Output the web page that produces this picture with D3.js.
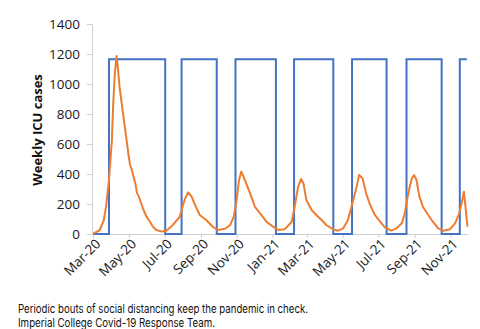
<!DOCTYPE html>
<meta charset="utf-8">
<style>
  body { margin: 0; background: #fff; }
  text { font-family: "Open Sans", sans-serif; }
</style>
<script src="https://d3js.org/d3.v7.min.js"></script>
<div id="chart"></div>
<script>
  // orange: weekly ICU cases
  var caseDates = ["2020-03-01","2020-03-12","2020-03-19","2020-03-23","2020-03-28","2020-04-02","2020-04-04","2020-04-07","2020-04-10",
    "2020-04-12","2020-04-15","2020-04-18","2020-04-21","2020-04-24","2020-04-27","2020-04-30","2020-05-03","2020-05-06","2020-05-09",
    "2020-05-12","2020-05-15","2020-05-18","2020-05-21","2020-05-26","2020-05-31","2020-06-06","2020-06-11","2020-06-17","2020-06-26",
    "2020-07-04","2020-07-15","2020-07-27","2020-07-30","2020-08-04","2020-08-10","2020-08-16","2020-08-22","2020-08-30","2020-09-10",
    "2020-09-22","2020-09-30","2020-10-12","2020-10-21","2020-10-27","2020-11-01","2020-11-05","2020-11-09","2020-11-15","2020-11-24",
    "2020-12-02","2020-12-11","2020-12-22","2021-01-02","2021-01-11","2021-01-22","2021-02-03","2021-02-08","2021-02-14","2021-02-19",
    "2021-02-23","2021-02-28","2021-03-09","2021-03-17","2021-03-26","2021-04-03","2021-04-15","2021-04-23","2021-05-02","2021-05-10",
    "2021-05-16","2021-05-25","2021-05-29","2021-06-04","2021-06-10","2021-06-17","2021-06-25","2021-07-04","2021-07-12","2021-07-23",
    "2021-08-01","2021-08-10","2021-08-15","2021-08-21","2021-08-27","2021-08-31","2021-09-04","2021-09-09","2021-09-15","2021-09-24",
    "2021-10-02","2021-10-11","2021-10-20","2021-10-31","2021-11-09","2021-11-16","2021-11-20","2021-11-24","2021-11-27","2021-11-30"];
  var caseValues = [3,25,90,182,360,627,849,1073,1187,
    1116,982,893,804,715,627,538,460,427,382,
    338,271,249,215,160,116,82,49,27,16,
    22,60,116,160,227,278,250,193,127,93,
    45,27,35,60,116,227,360,416,360,271,
    182,138,82,49,27,31,82,182,316,367,
    338,227,160,127,93,60,31,22,38,93,
    182,316,393,371,271,193,127,82,44,22,
    38,71,138,271,371,393,360,249,182,127,
    82,38,22,31,71,138,204,282,171,49];

  // blue: social distancing on/off switches
  var switchDates = ["2020-03-01","2020-03-28","2020-07-02","2020-07-30","2020-09-28","2020-10-30","2021-01-07","2021-02-07",
    "2021-04-15","2021-05-17","2021-07-15","2021-08-18","2021-10-17","2021-11-17","2021-11-29"];
  var switchValues = [0,1165,0,1165,0,1165,0,1165,0,1165,0,1165,0,1165,1165];

  var tickDates = ["2020-03-01","2020-05-01","2020-07-01","2020-09-01","2020-11-01","2021-01-01","2021-03-01",
    "2021-05-01","2021-07-01","2021-09-01","2021-11-01"];
  var yTicks = [0,200,400,600,800,1000,1200,1400];

  var parse = d3.timeParse("%Y-%m-%d");

  var svg = d3.select("#chart").append("svg")
    .attr("width", 480)
    .attr("height", 329);

  var x = d3.scaleTime()
    .domain([parse("2020-02-28"), parse("2021-12-01")])
    .range([92, 468]);
  var y = d3.scaleLinear()
    .domain([0, 1400])
    .range([234, 24]);

  // X axis
  var xAxis = svg.append("g")
    .attr("transform", "translate(0,234)")
    .call(d3.axisBottom(x)
      .tickValues(tickDates.map(parse))
      .tickFormat(d3.timeFormat("%b-%y"))
      .tickSize(4).tickSizeOuter(0));
  xAxis.selectAll("text")
    .attr("transform", "rotate(-45)")
    .style("text-anchor", "end")
    .attr("dx", "-0.15em")
    .attr("dy", "0.45em");

  // Y axis
  var yAxis = svg.append("g")
    .attr("transform", "translate(92,0)")
    .call(d3.axisLeft(y).tickValues(yTicks).tickFormat(d3.format("d"))
      .tickSize(5).tickPadding(7).tickSizeOuter(0));

  svg.selectAll(".domain, .tick line").attr("stroke", "#d0d0d0");
  svg.selectAll(".tick text").attr("fill", "#1a1a1a").style("font-size", "13.5px").style("font-family", "Open Sans");

  svg.append("text")
    .attr("transform", "translate(42,130) rotate(-90)")
    .attr("text-anchor", "middle")
    .style("font-weight", "bold")
    .style("font-size", "13px")
    .attr("fill", "#111")
    .text("Weekly ICU cases");

  // distancing line
  var stepLine = d3.line()
    .x(function (d) { return x(parse(d[0])); })
    .y(function (d) { return y(d[1]); })
    .curve(d3.curveStepAfter);
  svg.append("path")
    .datum(d3.zip(switchDates, switchValues))
    .attr("fill", "none")
    .attr("stroke", "#4472C4")
    .attr("stroke-width", 2)
    .attr("d", stepLine);

  // ICU cases line
  var caseLine = d3.line()
    .x(function (d) { return x(parse(d[0])); })
    .y(function (d) { return y(d[1]); });
  svg.append("path")
    .datum(d3.zip(caseDates, caseValues))
    .attr("fill", "none")
    .attr("stroke", "#ED7D31")
    .attr("stroke-width", 2)
    .attr("stroke-linejoin", "round")
    .attr("d", caseLine);

  // caption
  svg.append("text")
    .attr("x", 18).attr("y", 313)
    .style("font-family", "Inter").style("font-size", "11.5px")
    .attr("textLength", 290).attr("lengthAdjust", "spacingAndGlyphs")
    .attr("fill", "#111")
    .text("Periodic bouts of social distancing keep the pandemic in check.");
  svg.append("text")
    .attr("x", 18).attr("y", 326.5)
    .style("font-family", "Inter").style("font-size", "11.5px")
    .attr("textLength", 197).attr("lengthAdjust", "spacingAndGlyphs")
    .attr("fill", "#111")
    .text("Imperial College Covid-19 Response Team.");
</script>
